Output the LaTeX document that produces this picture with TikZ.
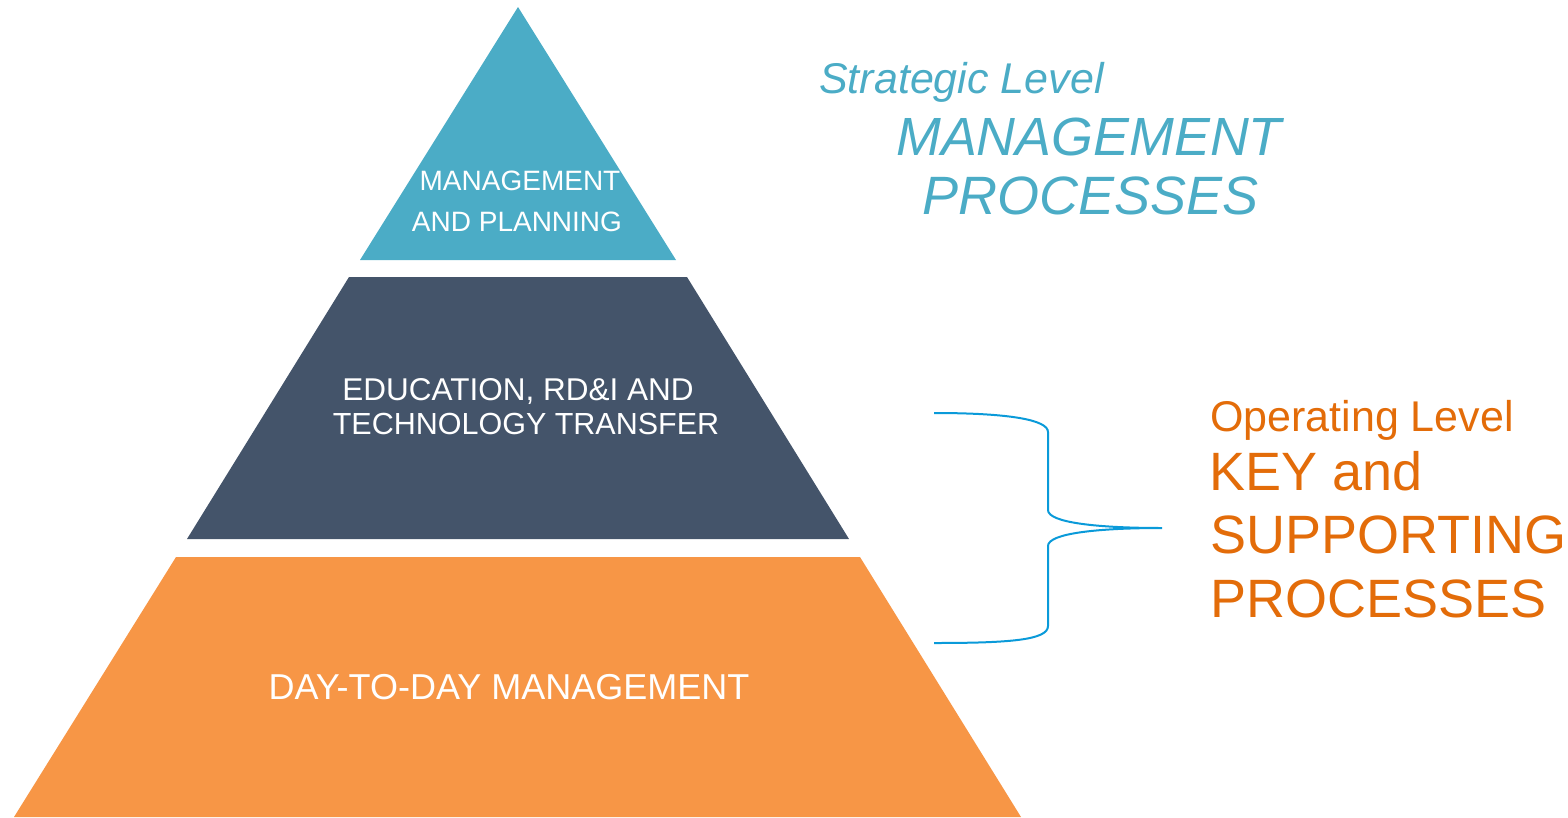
\documentclass[tikz,border=0pt]{standalone}
\usepackage{fontspec}
\setmainfont{Liberation Sans}
\definecolor{tealtier}{HTML}{4BACC6}
\definecolor{slatetier}{HTML}{44546A}
\definecolor{orangetier}{HTML}{F79646}
\definecolor{orangetext}{HTML}{E36C09}
\definecolor{bracecol}{HTML}{0A9AD9}
\newcommand\fs[1]{\fontsize{#1}{#1}\selectfont}
\tikzset{
  tiertext/.style={text=white,inner sep=0pt,anchor=base},
  sidetext/.style={inner sep=0pt,anchor=base west},
}

\begin{document}
\begin{tikzpicture}[x=1pt,y=-1pt]
\useasboundingbox (0,0) rectangle (1568,817);

\fill[tealtier]   (518,7) -- (676,260) -- (360,260) -- cycle;
\fill[slatetier]  (349,277) -- (687,277) -- (849,539) -- (187,539) -- cycle;
\fill[orangetier] (176,557) -- (860,557) -- (1021,817) -- (14,817) -- cycle;

\node (mgmt1) [tiertext,font=\fs{28}] at (520,190) {MANAGEMENT};
\node (mgmt2) [tiertext,font=\fs{28}] at (517,231) {AND PLANNING};
\node (edu1)  [tiertext,font=\fs{31.5}] at (518,400) {EDUCATION, RD\&I AND};
\node (edu2)  [tiertext,font=\fs{30.5}] at (526,434) {TECHNOLOGY TRANSFER};
\node (daily) [tiertext,font=\fs{36}] at (509,699) {DAY-TO-DAY MANAGEMENT};

\node (strat)  [sidetext,text=tealtier,font=\fs{43}\itshape] at (819,93)  {Strategic Level};
\node (smgmt)  [sidetext,text=tealtier,font=\fs{53.8}\itshape] at (896,155) {MANAGEMENT};
\node (sproc)  [sidetext,text=tealtier,font=\fs{54}\itshape] at (922,214) {PROCESSES};

\node (oper)  [sidetext,text=orangetext,font=\fs{43}] at (1210,431) {Operating Level};
\node (okey)  [sidetext,text=orangetext,font=\fs{54}] at (1209,490) {KEY and};
\node (osup)  [sidetext,text=orangetext,font=\fs{54}] at (1210,553) {SUPPORTING};
\node (oproc) [sidetext,text=orangetext,font=\fs{54}] at (1210,617) {PROCESSES};

\coordinate (btop) at (934,413);
\coordinate (btip) at (1162,528);
\coordinate (bbot) at (934,643);
\draw [bracecol,line width=2pt] (btop) .. controls (1010,413) and (1048,420) .. (1048,432) -- (1048,510)
      .. controls (1048,523) and (1100,528) .. (btip)
      .. controls (1100,528) and (1048,533) .. (1048,546) -- (1048,626)
      .. controls (1048,640) and (1010,643) .. (bbot);
\end{tikzpicture}
\end{document}
